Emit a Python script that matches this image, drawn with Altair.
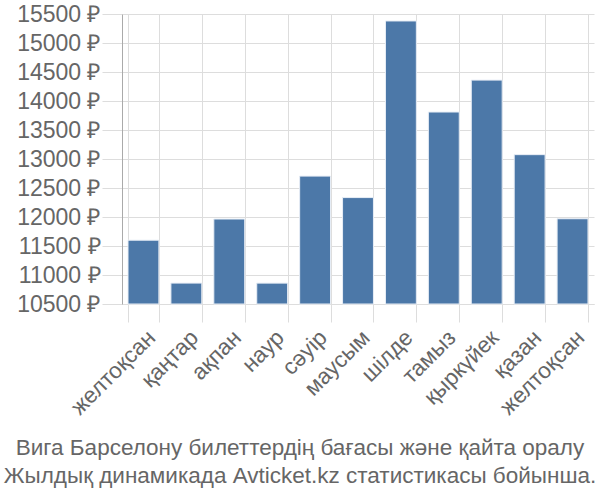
import altair as alt
import pandas as pd

months = ["желтоқсан", "қаңтар", "ақпан", "наур", "сәуір", "маусым", "шілде",
          "тамыз", "қыркүйек", "қазан", "желтоқсан "]
prices = [11600, 10860, 11965, 10860, 12705, 12335, 15380, 13810, 14360, 13075, 11970]
base_value = [10500]

df = pd.DataFrame({"month": months, "price": prices, "base": base_value * len(months)})

FONT = "Liberation Sans"
GREY = "#666666"

chart = alt.Chart(df).mark_bar(color="#4c78a8", stroke="#e8eef6", strokeWidth=1).encode(
    x=alt.X("month:N", sort=months,
            scale=alt.Scale(paddingInner=0.28, paddingOuter=0.14),
            axis=alt.Axis(title=None, labelAngle=-45, labelFontSize=22.5, labelColor=GREY,
                          labelFont=FONT, tickBand="extent", grid=True, gridColor="#dddddd",
                          tickColor="#dddddd", tickSize=18, domainColor="#dddddd",
                          labelPadding=4, labelAlign="right", labelBaseline="top")),
    y=alt.Y("price:Q", scale=alt.Scale(domain=[10500, 15500], zero=False, nice=False),
            axis=alt.Axis(title=None, values=list(range(10500, 16000, 500)),
                          labelExpr="datum.value + ' ₽'", labelFontSize=23, labelColor=GREY,
                          labelFont=FONT, gridColor="#dddddd", tickColor="#dddddd",
                          tickSize=20, domainColor="#aaaaaa", labelPadding=2)),
    y2="base:Q",
).properties(
    width=472, height=290,
    title=alt.TitleParams(
        text=["Вига Барселону билеттердің бағасы және қайта оралу",
              "Жылдық динамикада Avticket.kz статистикасы бойынша."],
        orient="bottom", anchor="middle", fontSize=22.5, font=FONT, color=GREY,
        fontWeight="normal", lineHeight=28, offset=18, dx=-58),
    autosize=alt.AutoSizeParams(type="none"),
    padding={"left": 122, "top": 14, "right": 6, "bottom": 196},
).configure_view(stroke=None)

chart.save("out.html", embed_options={"renderer": "svg", "actions": False})
